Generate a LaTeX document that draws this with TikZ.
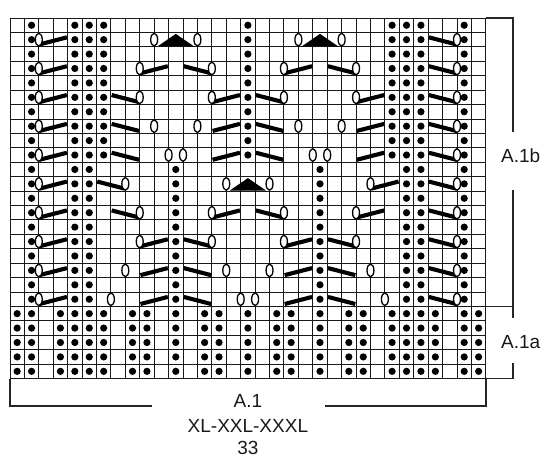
\documentclass[tikz,border=0pt]{standalone}
\usepackage{fontspec}
\setmainfont{Liberation Sans}
\usepackage{tikz}

\begin{document}
\begin{tikzpicture}[x=14.42pt,y=-14.42pt,
	gridline/.style={black!90,line width=0.9pt},
	slant/.style={black,line width=4.1pt},
	yarnover/.style={draw=black,fill=white,line width=1.3pt},
	bracket/.style={black!85,line width=1.5pt},
	chartlabel/.style={anchor=base,text=black!90,font=\fontsize{19}{22}\selectfont}]

	\def\ncols{33}
	\def\nrows{25}
	\def\brx{34.9}

	\useasboundingbox (-0.69,-1.25) rectangle (37.45,31.14);

	% grid
	\foreach \i in {0,...,\ncols} \draw[gridline] (\i,0) -- (\i,\nrows);
	\foreach \j in {0,...,\nrows} \draw[gridline] (0,\j) -- (\ncols,\j);

	% purl dots
	\foreach \r in {1,...,20} \foreach \c in {2,32} \fill (\c-0.5,\r-0.5) circle (0.25);
	\foreach \r in {1,...,10} \foreach \c in {5,6,7,17,27,28,29} \fill (\c-0.5,\r-0.5) circle (0.25);
	\foreach \r in {11,...,20} \foreach \c in {5,6,12,22,28,29} \fill (\c-0.5,\r-0.5) circle (0.25);
	\foreach \r in {21,...,25} \foreach \c in {1,2,4,5,6,7,9,10,12,14,15,17,19,20,22,24,25,27,28,29,30,32,33}
		\fill (\c-0.5,\r-0.5) circle (0.25);

	% decreases, low end at grid line b
	\foreach \r/\bs in {2/{2},4/{2,9,19},6/{2,14,24},8/{2,14,24},10/{2,14,24},12/{2,25},14/{2,14,24},16/{2,9,19},18/{2,9,19},20/{2,9,19}}
		\foreach \b in \bs \draw[slant] (\b+0.05,\r-0.17) -- (\b+1.95,\r-0.66);
	\foreach \r/\bs in {2/{31},4/{14,24,31},6/{9,19,31},8/{9,19,31},10/{9,19,31},12/{8,31},14/{9,19,31},16/{14,24,31},18/{14,24,31},20/{14,24,31}}
		\foreach \b in \bs \draw[slant] (\b-1.95,\r-0.66) -- (\b-0.05,\r-0.17);

	% double decreases
	\foreach \r/\c in {2/12,2/22,12/17}
		\fill (\c-1.77,\r-0.03) -- (\c-0.5,\r-0.9) -- (\c+0.77,\r-0.03) -- cycle;

	% yarn overs
	\foreach \r/\bs in {2/{2,10,13,20,23,31},4/{2,9,14,19,24,31},6/{2,9,14,19,24,31},8/{2,10,13,20,23,31},10/{2,11,12,21,22,31},
		12/{2,8,15,18,25,31},14/{2,9,14,19,24,31},16/{2,9,14,19,24,31},18/{2,8,15,18,25,31},20/{2,7,16,17,26,31}}
		\foreach \b in \bs \draw[yarnover] (\b,\r-0.5) ellipse (0.24 and 0.44);

	% brackets and labels
	\node[chartlabel] (upper) at (35.42,10.0) {A.1b};
	\node[chartlabel] (lower) at (35.42,22.9) {A.1a};
	\node[chartlabel] (chart) at (16.5,27.02) {A.1};
	\node[chartlabel] (sizes) at (16.5,28.75) {XL-XXL-XXXL};
	\node[chartlabel] (count) at (16.5,30.30) {33};

	\draw[bracket] (\ncols,0) -- (\brx,0) -- (\brx,7.88);
	\draw[bracket] (\brx,11.93) -- (\brx,20.83);
	\draw[bracket] (\ncols,20) -- (\brx,20);
	\draw[bracket] (\brx,23.95) -- (\brx,\nrows) -- (\ncols,\nrows);
	\draw[bracket] (0,\nrows) -- (0,26.9) -- (9.83,26.9);
	\draw[bracket] (21.84,26.9) -- (\ncols,26.9) -- (\ncols,\nrows);

\end{tikzpicture}
\end{document}
